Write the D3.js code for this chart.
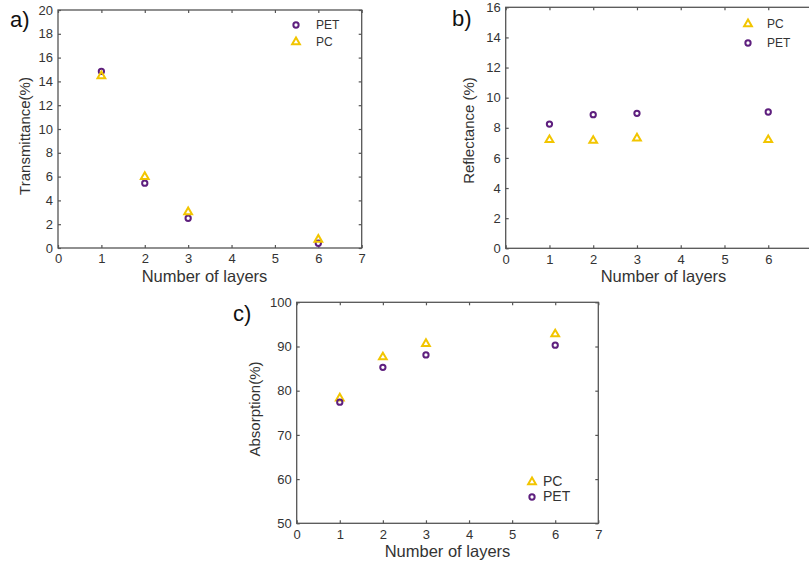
<!DOCTYPE html>
<html>
<head>
<meta charset="utf-8">
<script src="https://cdn.jsdelivr.net/npm/d3@7"></script>
<style>
  body { margin: 0; background: #fff; }
  svg { display: block; font-family: "Liberation Sans", Arial, sans-serif; }
</style>
</head>
<body>
<div id="vis"></div>
<script>
// layers on the x axis
var layers = [1, 2, 3, 6];

// a) transmittance
var transPET = [14.85, 5.45, 2.5, 0.4];
var transPC = [14.45, 5.98, 3.03, 0.72];
// b) reflectance
var reflPC = [7.2, 7.15, 7.3, 7.2];
var reflPET = [8.25, 8.87, 8.96, 9.05];
// c) absorption
var absPC = [78.3, 87.6, 90.6, 92.8];
var absPET = [77.4, 85.3, 88.1, 90.3];

var xTicks = [0, 1, 2, 3, 4, 5, 6, 7];
var yTicksA = [0, 2, 4, 6, 8, 10, 12, 14, 16, 18, 20];
var yTicksB = [0, 2, 4, 6, 8, 10, 12, 14, 16];
var yTicksC = [50, 60, 70, 80, 90, 100];

var purple = "#5e1f7e";
var yellow = "#f2c500";

var W = 809, H = 563;
var svg = d3.select("#vis").append("svg").attr("width", W).attr("height", H);

function marker(kind) {
  return kind === "tri"
    ? d3.symbol().type(d3.symbolTriangle).size(26)()
    : d3.symbol().type(d3.symbolCircle).size(22)();
}

function panel(opt) {
  var g = svg.append("g");
  var x = d3.scaleLinear().domain([0, 7]).range([opt.left, opt.right]);
  var y = d3.scaleLinear().domain(opt.yDomain).range([opt.bottom, opt.top]);

  // frame
  g.append("rect")
    .attr("x", opt.left).attr("y", opt.top)
    .attr("width", opt.right - opt.left).attr("height", opt.bottom - opt.top)
    .attr("fill", "none").attr("stroke", "#555").attr("stroke-width", 1.3);

  // bottom and left axes with labels, ticks inward
  var xb = g.append("g").attr("transform", "translate(0," + opt.bottom + ")")
    .call(d3.axisBottom(x).tickValues(xTicks).tickSizeInner(-3).tickSizeOuter(0).tickPadding(6).tickFormat(d3.format("d")));
  var yl = g.append("g").attr("transform", "translate(" + opt.left + ",0)")
    .call(d3.axisLeft(y).tickValues(opt.yTicks).tickSizeInner(-3).tickSizeOuter(0).tickPadding(5).tickFormat(d3.format("d")));
  // mirror ticks on top and right
  var xt = g.append("g").attr("transform", "translate(0," + opt.top + ")")
    .call(d3.axisTop(x).tickValues(xTicks).tickSizeInner(-3).tickSizeOuter(0).tickFormat(""));
  var yr = g.append("g").attr("transform", "translate(" + opt.right + ",0)")
    .call(d3.axisRight(y).tickValues(opt.yTicks).tickSizeInner(-3).tickSizeOuter(0).tickFormat(""));
  [xb, yl, xt, yr].forEach(function(a) {
    a.select(".domain").remove();
    a.selectAll("line").attr("stroke", "#555").attr("stroke-width", 1.2);
    a.selectAll("text").attr("font-size", "13px").attr("fill", "#333")
      .attr("font-family", "'Liberation Sans', Arial, sans-serif");
  });

  // axis titles
  g.append("text")
    .attr("x", opt.xTitleX)
    .attr("y", opt.bottom + 34)
    .attr("text-anchor", "middle").attr("font-size", "16.5px").attr("fill", "#333")
    .text("Number of layers");
  g.append("text")
    .attr("transform", "translate(" + opt.yTitleX + "," + opt.yTitleY + ") rotate(-90)")
    .attr("text-anchor", "middle").attr("font-size", "15px").attr("fill", "#333")
    .text(opt.yTitle);

  // panel label
  g.append("text")
    .attr("x", opt.labelX).attr("y", opt.labelY)
    .attr("font-size", "22px").attr("fill", "#111")
    .text(opt.label);

  // series
  opt.series.forEach(function(s) {
    g.append("g").selectAll("path")
      .data(s.values)
      .enter()
      .append("path")
      .attr("transform", function(d, i) {
        return "translate(" + x(layers[i]) + "," + y(d) + ")";
      })
      .attr("d", marker(s.kind))
      .attr("fill", "none")
      .attr("stroke", s.color)
      .attr("stroke-width", 2);
  });

  // legend
  opt.series.forEach(function(s, i) {
    var ly = opt.legY + i * opt.legGap;
    g.append("path")
      .attr("transform", "translate(" + opt.legX + "," + ly + ")")
      .attr("d", marker(s.kind))
      .attr("fill", "none").attr("stroke", s.color).attr("stroke-width", 2);
    g.append("text")
      .attr("x", opt.legX + opt.legText).attr("y", ly + 4)
      .attr("font-size", opt.legFont).attr("fill", "#333")
      .text(s.name);
  });
}

panel({
  left: 58, right: 361.7, top: 10, bottom: 248,
  yDomain: [0, 20], yTicks: yTicksA, yTitle: "Transmittance(%)",
  xTitleX: 204.5, yTitleX: 30, yTitleY: 136,
  label: "a)", labelX: 10, labelY: 27,
  legX: 296, legY: 25, legGap: 17, legText: 20, legFont: "12px",
  series: [
    {name: "PET", kind: "circ", color: purple, values: transPET},
    {name: "PC", kind: "tri", color: yellow, values: transPC}
  ]
});

panel({
  left: 505.7, right: 812, top: 7.3, bottom: 248.3,
  yDomain: [0, 16], yTicks: yTicksB, yTitle: "Reflectance (%)",
  xTitleX: 663.5, yTitleX: 474, yTitleY: 130.5,
  label: "b)", labelX: 452, labelY: 26,
  legX: 748, legY: 24, legGap: 19, legText: 19, legFont: "12px",
  series: [
    {name: "PC", kind: "tri", color: yellow, values: reflPC},
    {name: "PET", kind: "circ", color: purple, values: reflPET}
  ]
});

panel({
  left: 296.7, right: 598.3, top: 302.3, bottom: 523.3,
  yDomain: [50, 100], yTicks: yTicksC, yTitle: "Absorption(%)",
  xTitleX: 447.5, yTitleX: 260, yTitleY: 409,
  label: "c)", labelX: 233, labelY: 321,
  legX: 532, legY: 482, legGap: 15, legText: 11, legFont: "14px",
  series: [
    {name: "PC", kind: "tri", color: yellow, values: absPC},
    {name: "PET", kind: "circ", color: purple, values: absPET}
  ]
});
</script>
</body>
</html>
